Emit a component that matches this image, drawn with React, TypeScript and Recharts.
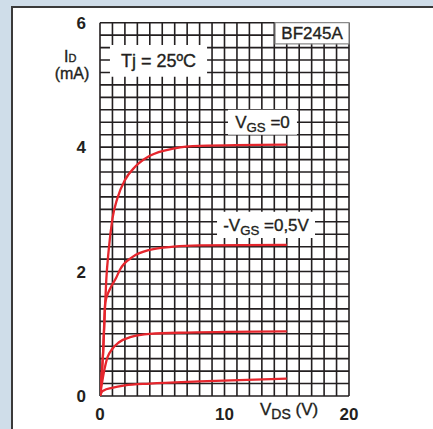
import { LineChart, Line, XAxis, YAxis, CartesianGrid, ReferenceArea } from 'recharts';

const FONT = '"Liberation Sans", Arial, sans-serif';
const INK = '#231f20';
const RED = '#e5262d';

// grid every 1 V and 0.2 mA, labels only on the majors
const vdsTicks = Array.from({ length: 21 }, (_, i) => i);
const idTicks = Array.from({ length: 31 }, (_, i) => +(i * 0.2).toFixed(1));
const vdsLabels = [0, 10, 20];
const idLabels = [0, 2, 4, 6];

// VGS = 0
const vds0 = [0, 0.25, 0.42, 0.5, 0.7, 1.0, 1.4, 2.0, 2.8, 4, 6, 8, 15];
const id0 = [0, 0.7, 1.5, 1.85, 2.35, 2.85, 3.18, 3.47, 3.68, 3.86, 3.98, 4.02, 4.04];
// -VGS = 0.5 V
const vds1 = [0, 0.25, 0.42, 0.8, 1.3, 1.6, 2.65, 4, 5.9, 8, 15];
const id1 = [0, 0.7, 1.5, 1.72, 1.9, 2.03, 2.24, 2.35, 2.4, 2.42, 2.43];
// third curve
const vds2 = [0, 0.3, 0.6, 1.0, 1.5, 2.5, 4, 7, 15];
const id2 = [0, 0.37, 0.62, 0.76, 0.86, 0.95, 1.0, 1.02, 1.04];
// bottom curve
const vds3 = [0, 0.1, 0.3, 0.96, 2, 4, 8, 15];
const id3 = [0, 0.05, 0.09, 0.13, 0.17, 0.2, 0.235, 0.28];

const pts = (v: number[], i: number[]) => v.map((x, k) => ({ v: x, i: i[k] }));
const curves = [pts(vds0, id0), pts(vds1, id1), pts(vds2, id2), pts(vds3, id3)];

// a thin outline makes the plain text look as heavy as the printed original
const heavy = { stroke: INK, strokeWidth: 0.35 };

type Part = { t: string; sub?: boolean };

const boxLabel = (parts: Part[], size: number) => (props: any) => {
  const vb = props.viewBox || {};
  const cx = vb.x + vb.width / 2;
  const cy = vb.y + vb.height / 2 + size * 0.36;
  let shifted = false;
  return (
    <text x={cx} y={cy} textAnchor="middle" fill={INK} fontFamily={FONT} fontSize={size} {...heavy}>
      {parts.map((p, k) => {
        let dy = 0;
        if (p.sub && !shifted) { dy = 4; shifted = true; }
        else if (!p.sub && shifted) { dy = -4; shifted = false; }
        return (
          <tspan key={k} dy={dy} fontSize={p.sub ? size * 0.78 : size}>{p.t}</tspan>
        );
      })}
    </text>
  );
};

export default function App() {
  return (
    <div style={{ position: 'absolute', left: 0, top: 0, width: 433, height: 429, background: '#cfdde9', overflow: 'hidden' }}>
      <div style={{ position: 'absolute', left: 11, top: 6, width: 422, height: 423, background: '#fff', borderLeft: '2px solid #3a3a3a', borderTop: '2px solid #3a3a3a', boxSizing: 'border-box' }} />
      <div style={{ position: 'absolute', left: 0, top: 0 }}>
        <LineChart width={433} height={429} margin={{ top: 22.7, right: 84, left: 60, bottom: 3 }} style={{ fontFamily: FONT }}>
          <CartesianGrid stroke={INK} strokeWidth={1.6} />
          <XAxis
            type="number"
            dataKey="v"
            domain={[0, 20]}
            ticks={vdsTicks}
            interval={0}
            allowDataOverflow
            axisLine={false}
            tickLine={false}
            tickSize={0}
            tickMargin={12}
            height={30}
            tickFormatter={(v: number) => (vdsLabels.includes(v) ? String(v) : '')}
            tick={{ fontSize: 17, fontWeight: 'bold', fill: INK, fontFamily: FONT }}
          />
          <YAxis
            type="number"
            domain={[0, 6]}
            ticks={idTicks}
            interval={0}
            allowDataOverflow
            axisLine={false}
            tickLine={false}
            tickSize={0}
            tickMargin={14}
            width={40}
            tickFormatter={(v: number) => (idLabels.includes(v) ? String(v) : '')}
            tick={{ fontSize: 17, fontWeight: 'bold', fill: INK, fontFamily: FONT }}
          />
          <ReferenceArea x1={14.06} x2={20} y1={5.66} y2={6} fill="#fff" fillOpacity={1} stroke="#8a8a8a" strokeWidth={1.2}
            label={{ content: boxLabel([{ t: 'BF245A' }], 17) }} />
          <ReferenceArea x1={0.8} x2={8.6} y1={5.13} y2={5.64} fill="#fff" fillOpacity={1} stroke="none"
            label={{ content: boxLabel([{ t: 'Tj = 25ºC' }], 18) }} />
          <ReferenceArea x1={10.28} x2={15.82} y1={4.2} y2={4.6} fill="#fff" fillOpacity={1} stroke="none"
            label={{ content: boxLabel([{ t: 'V' }, { t: 'GS', sub: true }, { t: ' =0' }], 17) }} />
          <ReferenceArea x1={9.4} x2={17.27} y1={2.54} y2={2.96} fill="#fff" fillOpacity={1} stroke="none"
            label={{ content: boxLabel([{ t: '-V' }, { t: 'GS', sub: true }, { t: ' =0,5V' }], 17) }} />
          {curves.map((d, k) => (
            <Line key={k} data={d} dataKey="i" type="monotone" stroke={RED} strokeWidth={2.3} dot={false} isAnimationActive={false} />
          ))}
          <text x={64} y={62} fill={INK} fontFamily={FONT} {...heavy}>
            <tspan fontSize={16}>I</tspan>
            <tspan fontSize={11}>D</tspan>
          </text>
          <text x={72} y={79} textAnchor="middle" fill={INK} fontFamily={FONT} fontSize={16} {...heavy}>(mA)</text>
          <text x={260} y={415} fill={INK} fontFamily={FONT} {...heavy}>
            <tspan fontSize={17}>V</tspan>
            <tspan fontSize={14} dy={4}>DS</tspan>
            <tspan fontSize={17} dy={-4}> (V)</tspan>
          </text>
        </LineChart>
      </div>
    </div>
  );
}
